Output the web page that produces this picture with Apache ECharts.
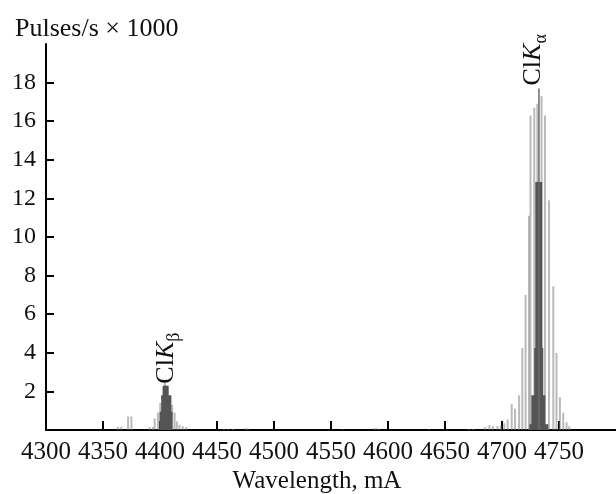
<!DOCTYPE html>
<html>
<head>
<meta charset="utf-8">
<script src="https://cdn.jsdelivr.net/npm/echarts@6/dist/echarts.min.js"></script>
<style>
html,body{margin:0;padding:0;background:#fff;}
#chart{width:616px;height:494px;}
</style>
</head>
<body>
<div id="chart"></div>
<script>
// ---- data ----
const xTicks = [4300, 4350, 4400, 4450, 4500, 4550, 4600, 4650, 4700, 4750];
const yTicks = [2, 4, 6, 8, 10, 12, 14, 16, 18];

// individual spectral lines (wavelength, pulses/s x 1000)
const lineWavelength = [
  4363.2, 4366.1, 4372, 4374.9, 4390.9, 4393.8, 4395.3, 4398.2, 4400.2, 4402.6, 4404.3,
  4406.4, 4408.4, 4410.7, 4412.8, 4414.8, 4417.1, 4420, 4423,
  4456, 4460, 4464, 4475, 4477, 4560, 4589, 4592, 4636, 4671, 4675,
  4685, 4689, 4692, 4696, 4699, 4702, 4705, 4708.5, 4711.4, 4715, 4717.8, 4720.7,
  4723.7, 4725, 4728.3, 4731, 4734.7, 4737.7, 4741.2, 4745, 4747.8, 4750.8, 4753.7,
  4756.6, 4759
];
const lineCount = [
  0.17, 0.17, 0.7, 0.7, 0.15, 0.15, 0.6, 0.9, 1.4, 2.25, 2.45,
  2.2, 1.55, 1.3, 0.9, 0.45, 0.27, 0.2, 0.15,
  0.05, 0.06, 0.05, 0.1, 0.08, 0.04, 0.1, 0.08, 0.04, 0.05, 0.05,
  0.15, 0.25, 0.2, 0.2, 0.25, 0.35, 0.55, 1.35, 1.1, 1.8, 4.25, 7.0,
  11.1, 16.3, 16.7, 16.9, 17.3, 16.3, 11.9, 7.45, 4.0, 1.7, 0.9,
  0.4, 0.2
];

// dark envelope (histogram steps): start, end, height
const coreStart  = [4399.7, 4401, 4402.6, 4724, 4725.7, 4728.3, 4729.2];
const coreEnd    = [4411, 4410, 4407.6, 4740.6, 4738, 4736.2, 4735.3];
const coreHeight = [0.95, 1.8, 2.3, 0.3, 1.8, 4.25, 12.85];

// strongest single line
const peakWavelength = [4732.4];
const peakCount = [17.7];

// peak annotations
const annotWavelength = [4405.5, 4727.5];
const annotCount = [2.4, 17.85];
const annotName = ['β', 'α'];

// ---- chart ----
const serif = "'Liberation Serif', 'DejaVu Serif', serif";
const chart = echarts.init(document.getElementById('chart'), null, {renderer: 'canvas'});

function barItem(width) {
  return function (params, api) {
    const x = api.value(0), h = api.value(1);
    const top = api.coord([x, h]);
    const base = api.coord([x, 0]);
    return {
      type: 'rect',
      shape: {x: top[0] - width / 2, y: top[1], width: width, height: base[1] - top[1]},
      style: {fill: api.visual('color')}
    };
  };
}

const option = {
  backgroundColor: '#fff',
  animation: false,
  title: [
    {text: 'Pulses/s × 1000', left: 10, top: 11,
     textStyle: {fontFamily: serif, fontSize: 26, fontWeight: 'normal', color: '#111'}},
    {text: 'Wavelength, mA', left: 312, top: 464, textAlign: 'center',
     textStyle: {fontFamily: serif, fontSize: 25, fontWeight: 'normal', color: '#111'}}
  ],
  grid: {left: 46, right: -2, top: 44, bottom: 64, containLabel: false},
  xAxis: {
    type: 'value', min: 4300, max: 4800, interval: 50,
    splitLine: {show: false},
    axisLine: {show: true, lineStyle: {color: '#000', width: 2}},
    axisTick: {show: true, inside: true, length: 9, lineStyle: {color: '#000', width: 2},
               customValues: xTicks},
    axisLabel: {customValues: xTicks, margin: 10, color: '#111', fontFamily: serif, fontSize: 25,
                formatter: function (v) { return String(v); }}
  },
  yAxis: {
    type: 'value', min: 0, max: 20, interval: 2,
    splitLine: {show: false},
    axisLine: {show: true, lineStyle: {color: '#000', width: 2}},
    axisTick: {show: true, inside: true, length: 8, lineStyle: {color: '#000', width: 2},
               customValues: yTicks},
    axisLabel: {customValues: yTicks, margin: 10, color: '#111', fontFamily: serif, fontSize: 24,
                formatter: function (v) { return String(v); }}
  },
  series: [
    {
      type: 'custom', name: 'lines', clip: true,
      itemStyle: {color: 'rgba(130,130,130,0.55)'},
      renderItem: barItem(2),
      data: lineWavelength.map((w, i) => [w, lineCount[i]])
    },
    {
      type: 'custom', name: 'core', clip: true,
      itemStyle: {color: '#555'},
      renderItem: function (params, api) {
        const a = api.coord([api.value(0), api.value(2)]);
        const b = api.coord([api.value(1), 0]);
        return {type: 'rect', shape: {x: a[0], y: a[1], width: b[0] - a[0], height: b[1] - a[1]},
                style: {fill: api.visual('color')}};
      },
      data: coreStart.map((s, i) => [s, coreEnd[i], coreHeight[i]])
    },
    {
      type: 'custom', name: 'peak', clip: true,
      itemStyle: {color: '#6a6a6a'},
      renderItem: barItem(1.5),
      data: peakWavelength.map((w, i) => [w, peakCount[i]])
    },
    {
      type: 'custom', name: 'labels', clip: false, silent: true,
      renderItem: function (params, api) {
        const p = api.coord([api.value(0), api.value(1)]);
        const sub = annotName[params.dataIndex];
        return {
          type: 'text', x: p[0], y: p[1], rotation: Math.PI / 2,
          style: {
            text: '{n|Cl}{i|K}{s|' + sub + '}',
            align: 'left', verticalAlign: 'middle',
            rich: {
              n: {fontFamily: serif, fontSize: 26, lineHeight: 26, verticalAlign: 'top', fill: '#111'},
              i: {fontFamily: serif, fontSize: 26, fontStyle: 'italic', lineHeight: 26, verticalAlign: 'top', fill: '#111'},
              s: {fontFamily: serif, fontSize: 18, lineHeight: 18, padding: [12, 0, 0, 0], verticalAlign: 'top', fill: '#111'}
            }
          }
        };
      },
      data: annotWavelength.map((w, i) => [w, annotCount[i]])
    }
  ]
};
chart.setOption(option);
</script>
</body>
</html>
